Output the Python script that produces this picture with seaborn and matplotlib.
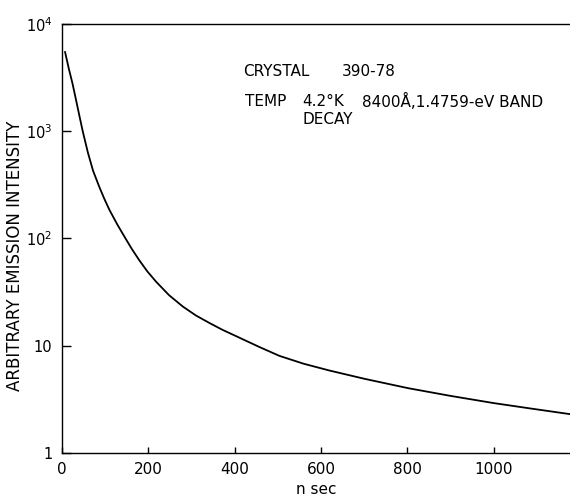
import matplotlib
matplotlib.use("Agg")
import matplotlib.pyplot as plt
import matplotlib.ticker as mticker
import seaborn as sns
import pandas as pd

# Values
time_ns = [7, 16, 24, 32, 40, 48, 60, 72, 86, 98, 110, 128, 147, 162, 179,
           198, 218, 248, 280, 310, 342, 372, 404, 430, 458, 504, 560, 620,
           700, 802, 900, 1001, 1090, 1177]
intensity = [5500, 3800, 2820, 2000, 1410, 1000, 631, 427, 305, 234, 184, 135,
             100, 79.4, 62.5, 49, 39.4, 29.5, 23.1, 19.1, 16.2, 14.0, 12.2,
             10.9, 9.66, 8.0, 6.76, 5.84, 4.9, 4.0, 3.39, 2.9, 2.57, 2.29]

x_ticks = [0, 200, 400, 600, 800, 1000]
x_tick_labels = ["0", "200", "400", "600", "800", "1000"]
y_ticks = [1, 10, 100, 1000, 10000]
y_tick_labels = ["1", "10", "$10^2$", "$10^3$", "$10^4$"]

sns.set_theme(style="white")
plt.rcParams["font.family"] = ["DejaVu Sans"]
plt.rcParams["mathtext.default"] = "regular"
plt.rcParams["text.color"] = "black"
plt.rcParams["axes.labelcolor"] = "black"

df = pd.DataFrame({"t": time_ns, "I": intensity})

W, H = 570, 498
fig = plt.figure(figsize=(5.7, 4.98), dpi=100)
ax = fig.add_axes([62 / W, 1 - 452.7 / H, (W - 62) / W, (452.7 - 24) / H])

sns.lineplot(data=df, x="t", y="I", ax=ax, color="black", linewidth=1.3)

ax.set_yscale("log")
ax.set_ylim(1, 1e4)
ax.set_xlim(0, 1177)

ax.yaxis.set_major_locator(mticker.FixedLocator(y_ticks))
ax.yaxis.set_major_formatter(mticker.FixedFormatter(y_tick_labels))
ax.yaxis.set_minor_locator(mticker.NullLocator())
ax.xaxis.set_major_locator(mticker.FixedLocator(x_ticks))
ax.xaxis.set_major_formatter(mticker.FixedFormatter(x_tick_labels))

ax.tick_params(axis="y", direction="in", length=6.5, width=1.0, labelsize=10.5,
               pad=7, colors="black", left=True)
ax.tick_params(axis="x", direction="in", length=4, width=1.0, labelsize=11,
               pad=7, colors="black", bottom=True)

for side in ["left", "bottom", "top"]:
    ax.spines[side].set_visible(True)
    ax.spines[side].set_color("black")
    ax.spines[side].set_linewidth(1.0)
ax.spines["right"].set_visible(False)

ax.set_xlabel("n sec", fontsize=11, color="black")
ax.set_ylabel("ARBITRARY EMISSION INTENSITY", fontsize=12, color="black")
axh = 452.7 - 24
ax.xaxis.set_label_coords((316 - 62) / (W - 62), -(489 - 452.7) / axh)
ax.yaxis.set_label_coords(-(62 - 15) / (W - 62), (452.7 - 256) / axh)
ax.xaxis.label.set_va("center")
ax.yaxis.label.set_va("center")

fs = 11
def put(x, y, s):
    fig.text(x / W, 1 - y / H, s, fontsize=fs, va="center", ha="left",
             color="black")

put(243, 72, "CRYSTAL")
put(342, 72, "390-78")
put(245, 101, "TEMP")
put(302, 101, "4.2°K")
put(362, 101, "8400Å,1.4759-eV BAND")
put(302, 120, "DECAY")

ax.set_facecolor("white")
fig.patch.set_facecolor("white")
fig.savefig("out.png", dpi=100)
